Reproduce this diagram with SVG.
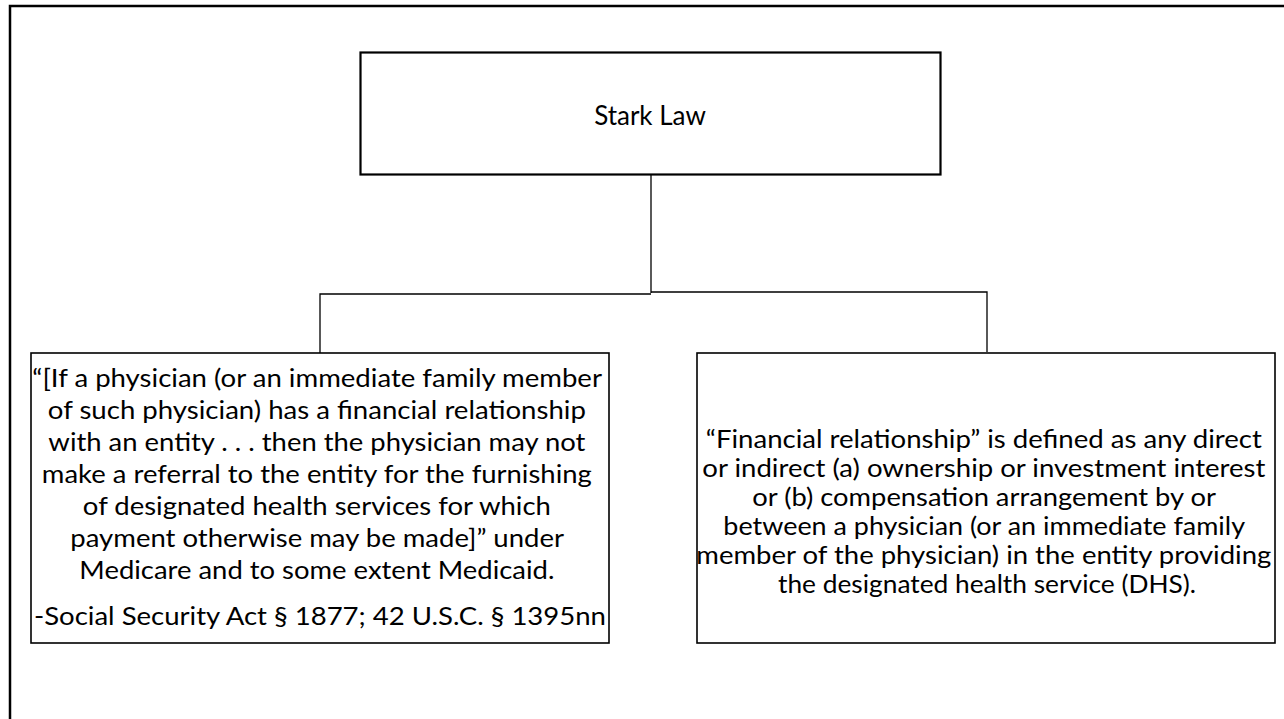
<svg xmlns="http://www.w3.org/2000/svg" width="1284" height="719" viewBox="0 0 1284 719">
<style>
.box{fill:#fff;stroke:#000;stroke-width:1.6}
.hbox{fill:#fff;stroke:#000;stroke-width:2.2}
.frame{fill:none;stroke:#000;stroke-width:2.5}
.conn{fill:none;stroke:#000;stroke-width:1.3}
.t{font-family:Lato,"Open Sans","Liberation Sans",sans-serif;fill:#000;text-anchor:middle}
</style>
<rect width="1284" height="719" fill="#fff"/>
<polyline class="frame" points="10,719 10,6 1284,6"/>
<g id="connectors">
<polyline class="conn" points="651,175 651,293"/>
<polyline class="conn" points="320,353 320,294 651,294"/>
<polyline class="conn" points="651,292 987,292 987,352"/>
</g>
<g id="stark-law">
<rect class="hbox" x="360.5" y="52.5" width="580" height="122"/>
<text class="t" x="650" y="125" font-size="26">Stark Law</text>
</g>
<g id="statute">
<rect class="box" x="31" y="353" width="578" height="290"/>
<text class="t" font-size="24.5">
<tspan x="320" y="387" textLength="569" lengthAdjust="spacingAndGlyphs">“[If a physician (or an immediate family member</tspan>
<tspan x="320" y="419" textLength="538" lengthAdjust="spacingAndGlyphs">of such physician) has a financial relationship</tspan>
<tspan x="320" y="451" textLength="537" lengthAdjust="spacingAndGlyphs">with an entity . . . then the physician may not</tspan>
<tspan x="320" y="483" textLength="550" lengthAdjust="spacingAndGlyphs">make a referral to the entity for the furnishing</tspan>
<tspan x="320" y="515" textLength="468" lengthAdjust="spacingAndGlyphs">of designated health services for which</tspan>
<tspan x="320" y="547" textLength="493" lengthAdjust="spacingAndGlyphs">payment otherwise may be made]” under</tspan>
<tspan x="320" y="579" textLength="475" lengthAdjust="spacingAndGlyphs">Medicare and to some extent Medicaid.</tspan>
<tspan x="320" y="625" textLength="572" lengthAdjust="spacingAndGlyphs">-Social Security Act § 1877; 42 U.S.C. § 1395nn</tspan>
</text>
</g>
<g id="definition">
<rect class="box" x="697" y="353" width="578" height="290"/>
<text class="t" font-size="24.5">
<tspan x="987" y="448" textLength="556" lengthAdjust="spacingAndGlyphs">“Financial relationship” is defined as any direct</tspan>
<tspan x="987" y="477" textLength="563" lengthAdjust="spacingAndGlyphs">or indirect (a) ownership or investment interest</tspan>
<tspan x="987" y="506" textLength="463" lengthAdjust="spacingAndGlyphs">or (b) compensation arrangement by or</tspan>
<tspan x="987" y="535" textLength="521" lengthAdjust="spacingAndGlyphs">between a physician (or an immediate family</tspan>
<tspan x="987" y="564" textLength="575" lengthAdjust="spacingAndGlyphs">member of the physician) in the entity providing</tspan>
<tspan x="987" y="593" textLength="418" lengthAdjust="spacingAndGlyphs">the designated health service (DHS).</tspan>
</text>
</g>
</svg>
